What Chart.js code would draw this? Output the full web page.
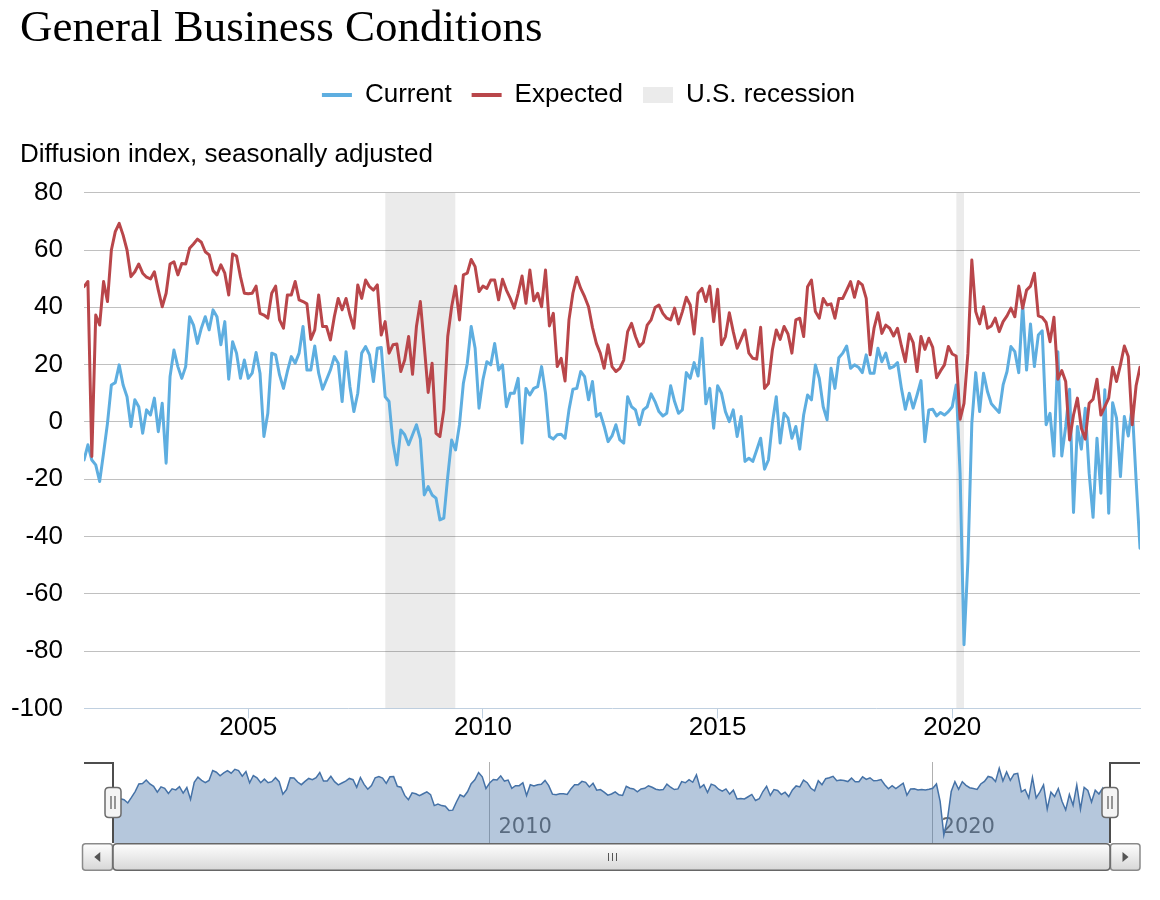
<!DOCTYPE html>
<html>
<head>
<meta charset="utf-8">
<script src="https://cdn.jsdelivr.net/npm/chart.js@4.4.1/dist/chart.umd.min.js"></script>
<style>
  html, body { margin: 0; padding: 0; background: #ffffff; }
  #wrap { position: relative; width: 1160px; height: 900px; overflow: hidden; }
  #main { position: absolute; left: 0; top: 0; }
  #nav { position: absolute; left: 0; top: 740px; }
</style>
</head>
<body>
<div id="wrap">
  <canvas id="main" width="1160" height="745"></canvas>
  <canvas id="nav" width="1160" height="160"></canvas>
</div>
<script>
// ---------------- data ----------------
const chartTitle = 'General Business Conditions';
const axisCaption = 'Diffusion index, seasonally adjusted';
const seriesNames = ['Current', 'Expected', 'U.S. recession'];
const firstMonth = [2001, 7];          // first observation: July 2001, monthly thereafter
const xTicks = [2005, 2010, 2015, 2020];
const navTicks = [2010, 2020];
const yRange = [-100, 80, 20];          // min, max, step
const recessions = [['2007-12', '2009-06'], ['2020-02', '2020-04']];

const current = [
  -13.3, -8.0, -13.3, -15.0, -20.8, -10.9,                                  // 2001 Jul-Dec
  -0.5, 12.9, 13.7, 19.9, 12.9, 8.8, -1.6, 7.7, 5.3, -4.0, 4.2, 2.4,        // 2002
  8.3, -3.4, 6.5, -14.4, 15.8, 25.1, 19.3, 15.2, 19.3, 36.7, 33.8, 27.4,    // 2003
  32.7, 36.7, 32.1, 39.1, 36.7, 26.9, 35.0, 14.9, 28.0, 24.0, 15.2, 21.6,   // 2004
  15.2, 17.0, 24.2, 17.0, -5.1, 3.0, 24.0, 23.4, 16.4, 11.7, 17.6, 22.8,    // 2005
  20.5, 24.0, 33.3, 18.1, 18.1, 26.5, 17.0, 11.4, 14.7, 18.1, 22.8, 20.5,   // 2006
  7.1, 24.5, 12.3, 3.6, 10.0, 24.0, 26.3, 23.4, 14.1, 25.7, 26.0, 8.8,      // 2007
  7.1, -7.4, -15.0, -2.8, -4.5, -8.0, -4.5, -1.0, -6.0, -25.5, -22.6, -25.5, // 2008
  -26.6, -34.2, -33.6, -19.1, -6.3, -9.8, -1.0, 13.5, 20.5, 33.3, 25.7, 4.8, // 2009
  14.7, 21.0, 19.9, 27.4, 18.1, 19.9, 5.3, 10.0, 10.0, 15.2, -7.4, 11.7,    // 2010
  9.4, 11.7, 12.3, 19.3, 10.0, -5.1, -6.0, -4.5, -4.3, -5.7, 4.2, 11.4,     // 2011
  11.7, 17.6, 15.8, 7.7, 14.1, 1.9, 3.0, -1.6, -6.9, -4.9, -1.0, -6.3,      // 2012
  -7.4, 8.8, 5.3, 4.2, -1.0, 4.2, 5.3, 9.8, 7.1, 3.6, 2.1, 3.0,             // 2013
  12.6, 7.1, 3.0, 4.2, 17.2, 15.2, 20.7, 16.0, 29.2, 6.3, 11.7, -2.2,       // 2014
  12.6, 10.0, 3.6, 0.1, 4.2, -5.1, 1.9, -13.8, -12.7, -13.8, -9.8, -5.7,    // 2015
  -16.5, -13.3, -0.5, 8.8, -7.4, 3.0, 1.3, -5.7, -1.6, -9.5, 2.4, 9.4,      // 2016
  7.7, 19.9, 15.2, 5.3, 0.7, 18.7, 11.7, 22.4, 24.0, 26.5, 18.7, 19.9,      // 2017
  19.1, 17.2, 23.4, 17.0, 17.0, 25.7, 21.0, 24.0, 18.7, 19.3, 20.7, 11.7,   // 2018
  4.4, 10.0, 4.8, 9.4, 14.4, -6.9, 4.2, 4.4, 2.1, 3.3, 2.4, 3.6,            // 2019
  5.3, 12.9, -17.9, -77.8, -48.5, -0.5, 17.2, 3.6, 17.0, 10.6, 6.3, 4.8,    // 2020
  3.3, 12.9, 17.6, 26.3, 24.5, 17.2, 41.0, 18.1, 34.2, 19.3, 30.3, 31.8,    // 2021
  -1.0, 3.0, -11.9, 24.5, -11.9, -1.6, 11.4, -31.6, -1.6, -9.5, 4.8, -17.9, // 2022
  -33.3, -5.7, -24.9, 11.2, -31.9, 6.7, 1.3, -19.1, 1.9, -4.9, 5.3, -20.2,  // 2023
  -44.1                                                                     // 2024 Jan
];

const expected = [
  47.2, 49.0, -12.1, 37.3, 33.8, 49.0,                                      // 2001 Jul-Dec
  42.0, 60.0, 66.4, 69.3, 65.2, 60.0, 50.7, 52.4, 55.1, 51.9, 50.5, 49.9,   // 2002
  52.4, 46.0, 40.2, 44.9, 55.1, 55.9, 51.3, 55.3, 55.1, 60.6, 62.1, 63.8,   // 2003
  62.7, 59.4, 58.3, 52.8, 51.3, 54.8, 51.9, 44.3, 58.6, 57.9, 50.7, 44.9,   // 2004
  44.7, 44.9, 47.4, 37.9, 37.3, 36.2, 44.9, 47.4, 35.6, 32.7, 44.3, 44.3,   // 2005
  49.0, 42.6, 42.0, 41.2, 28.8, 32.1, 44.3, 33.3, 33.3, 28.6, 36.7, 43.1,   // 2006
  39.1, 43.1, 37.3, 32.7, 47.8, 43.1, 49.5, 47.2, 46.0, 47.8, 30.3, 35.0,   // 2007
  24.0, 26.9, 27.2, 17.6, 21.6, 29.8, 16.6, 33.3, 42.0, 26.5, 10.3, 20.5,   // 2008
  -4.0, -5.1, 4.2, 29.8, 40.2, 47.4, 35.6, 51.3, 51.9, 56.7, 54.2, 45.5,    // 2009
  47.4, 46.6, 49.5, 49.5, 42.6, 49.8, 46.0, 43.1, 39.7, 44.9, 50.9, 41.4,   // 2010
  53.0, 42.3, 44.9, 40.2, 53.0, 33.5, 37.9, 19.3, 22.2, 14.3, 35.6, 44.9,   // 2011
  50.5, 46.6, 43.7, 40.2, 33.0, 27.4, 24.0, 18.7, 26.9, 19.3, 17.6, 18.7,   // 2012
  21.6, 31.5, 34.4, 29.8, 26.3, 27.7, 33.8, 35.6, 39.9, 40.8, 37.9, 36.2,   // 2013
  35.6, 39.7, 34.2, 38.5, 43.5, 40.8, 30.7, 44.9, 46.6, 42.0, 47.4, 35.0,   // 2014
  46.3, 26.9, 29.8, 38.1, 31.5, 25.7, 28.8, 32.1, 24.0, 22.2, 21.9, 33.0,   // 2015
  11.7, 13.4, 25.1, 32.1, 28.8, 33.3, 30.7, 24.0, 35.6, 36.2, 29.8, 47.2,   // 2016
  49.5, 38.5, 36.2, 43.1, 40.8, 41.2, 36.2, 43.1, 43.1, 46.0, 49.0, 43.5,   // 2017
  49.0, 47.8, 43.1, 23.4, 32.7, 38.1, 30.9, 33.8, 32.7, 30.0, 32.7, 26.5,   // 2018
  21.0, 30.7, 27.7, 17.6, 29.8, 25.3, 29.2, 26.0, 15.4, 17.8, 19.9, 26.3,   // 2019
  23.7, 23.0, 0.9, 6.5, 24.0, 56.5, 38.5, 34.2, 40.2, 32.7, 33.5, 36.2,     // 2020
  31.5, 35.0, 37.0, 39.7, 36.7, 47.4, 39.7, 46.0, 47.4, 51.9, 37.0, 36.5,   // 2021
  34.7, 28.0, 36.5, 14.9, 17.9, 14.1, -6.3, 2.4, 8.3, -2.2, -6.0, 6.5,      // 2022
  7.9, 14.9, 2.4, 5.3, 8.3, 19.1, 14.1, 19.9, 26.5, 22.8, -1.0, 12.6,       // 2023
  19.1                                                                      // 2024 Jan
];

// ---------------- helpers ----------------
const COLOR_CURRENT = '#5eaee0';
const COLOR_EXPECTED = '#b9464a';
const COLOR_RECESSION = 'rgba(0,0,0,0.08)';
const LEGEND_RECESSION = '#ebebeb';

function monthIndexToYear(i) { return firstMonth[0] + (firstMonth[1] - 1 + i) / 12; }
function monthStrToYear(s) { const [y, m] = s.split('-').map(Number); return y + (m - 1) / 12; }
const toPoints = arr => arr.map((v, i) => ({ x: monthIndexToYear(i), y: v }));
const xMin = monthIndexToYear(0);
const xMax = monthIndexToYear(current.length - 1);

Chart.defaults.font.family = "'Liberation Sans', Arial, sans-serif";
Chart.defaults.color = '#000';

const recessionSets = recessions.map(([a, b]) => ({
  label: seriesNames[2],
  data: [{ x: monthStrToYear(a), y: yRange[1] }, { x: monthStrToYear(b), y: yRange[1] }],
  borderWidth: 0, pointRadius: 0, backgroundColor: COLOR_RECESSION, fill: 'start', order: 10
}));

const layoutTweaks = {
  id: 'layoutTweaks',
  afterLayout(chart) {
    if (chart.legend) chart.legend.left += 17;       // nudge legend row to its reference position
    if (chart.scales.y) chart.scales.y.left = 0;     // widen label clip area so "-100" is not cut
  }
};

const mainChart = new Chart(document.getElementById('main'), {
  type: 'line',
  data: {
    datasets: [
      { label: seriesNames[0], data: toPoints(current), borderColor: COLOR_CURRENT, borderWidth: 3,
        pointRadius: 0, fill: false, tension: 0, order: 2, borderJoinStyle: 'round', borderCapStyle: 'round' },
      { label: seriesNames[1], data: toPoints(expected), borderColor: COLOR_EXPECTED, borderWidth: 3,
        pointRadius: 0, fill: false, tension: 0, order: 1, borderJoinStyle: 'round', borderCapStyle: 'round' },
      ...recessionSets
    ]
  },
  options: {
    responsive: false, animation: false, events: [],
    layout: { padding: { left: 20, right: 20, top: 0, bottom: 0 } },
    plugins: {
      tooltip: { enabled: false },
      title: {
        display: true, text: chartTitle, align: 'start', color: '#000',
        font: { family: "'Liberation Serif', 'Times New Roman', serif", size: 45, weight: 'normal', lineHeight: 1.0 },
        padding: { top: 6.4, bottom: 10.6 }
      },
      subtitle: {
        display: true, text: axisCaption, align: 'start', position: 'top', weight: 500, color: '#000',
        font: { size: 26, weight: 'normal', lineHeight: 1.2 },
        padding: { top: 21, bottom: 22.5 }
      },
      legend: {
        display: true, position: 'top', align: 'center',
        labels: {
          usePointStyle: true, pointStyleWidth: 30, boxHeight: 16, padding: 20, color: '#000',
          font: { size: 26 },
          generateLabels: () => [
            { text: seriesNames[0], pointStyle: 'line', strokeStyle: COLOR_CURRENT, fillStyle: COLOR_CURRENT, lineWidth: 4, lineCap: 'butt', hidden: false, datasetIndex: 0, fontColor: '#000' },
            { text: seriesNames[1], pointStyle: 'line', strokeStyle: COLOR_EXPECTED, fillStyle: COLOR_EXPECTED, lineWidth: 4, lineCap: 'butt', hidden: false, datasetIndex: 1, fontColor: '#000' },
            { text: seriesNames[2], pointStyle: 'rect', strokeStyle: LEGEND_RECESSION, fillStyle: LEGEND_RECESSION, lineWidth: 0, hidden: false, datasetIndex: 2, fontColor: '#000' }
          ]
        }
      }
    },
    scales: {
      x: {
        type: 'linear', min: xMin, max: xMax,
        afterBuildTicks: s => { s.ticks = xTicks.map(v => ({ value: v })); },
        afterFit: s => { s.height = 36.6; },
        ticks: { autoSkip: false, maxRotation: 0, padding: -6.2, color: '#000', font: { size: 26 }, callback: v => String(v) },
        grid: { drawOnChartArea: false, drawTicks: true, tickLength: 10, color: '#c0d0e0', lineWidth: 1 },
        border: { display: true, color: '#c0d0e0', width: 1 }
      },
      y: {
        min: yRange[0], max: yRange[1],
        afterFit: s => { s.width = 64; },
        ticks: { stepSize: yRange[2], padding: 21, color: '#000', font: { size: 26 } },
        grid: { drawTicks: false, lineWidth: 1, color: c => (c.tick && c.tick.value === yRange[0]) ? 'rgba(0,0,0,0)' : '#c0c0c0' },
        border: { display: false }
      }
    }
  },
  plugins: [layoutTweaks]
});

// ---------------- navigator ----------------
function rrect(c, x, y, w, h, r) {
  c.beginPath();
  c.moveTo(x + r, y);
  c.lineTo(x + w - r, y); c.quadraticCurveTo(x + w, y, x + w, y + r);
  c.lineTo(x + w, y + h - r); c.quadraticCurveTo(x + w, y + h, x + w - r, y + h);
  c.lineTo(x + r, y + h); c.quadraticCurveTo(x, y + h, x, y + h - r);
  c.lineTo(x, y + r); c.quadraticCurveTo(x, y, x + r, y);
  c.closePath();
}

const navDecor = {
  id: 'navDecor',
  afterLayout(chart) {
    const s = chart.scales.x;
    s.top = chart.chartArea.bottom - 40;   // let the in-plot tick labels escape the label clip box
    s.bottom = chart.height;
  },
  afterDraw(chart) {
    const c = chart.ctx;
    const a = chart.chartArea;
    const L = a.left, R = a.right, T = a.top, B = a.bottom;
    const outerL = mainChart.chartArea.left, outerR = mainChart.chartArea.right;
    const sbH = 28;
    c.save();
    // navigator outline
    c.strokeStyle = '#4d4d4d'; c.lineWidth = 2;
    c.beginPath();
    c.moveTo(outerL, T + 1); c.lineTo(L, T + 1); c.lineTo(L, B);
    c.moveTo(R, B); c.lineTo(R, T + 1); c.lineTo(outerR, T + 1);
    c.stroke();
    // scrollbar
    const grad = c.createLinearGradient(0, B, 0, B + sbH);
    grad.addColorStop(0, '#ffffff'); grad.addColorStop(1, '#d6d6d6');
    c.lineWidth = 1.5;
    rrect(c, outerL - 1.5, B + 0.75, L - outerL + 1, sbH - 1.5, 3); c.fillStyle = grad; c.fill(); c.strokeStyle = '#8a8a8a'; c.stroke();
    rrect(c, R + 0.5, B + 0.75, outerR - R - 0.5, sbH - 1.5, 3); c.fillStyle = grad; c.fill(); c.stroke();
    rrect(c, L, B + 0.75, R - L, sbH - 1.5, 4); c.fillStyle = grad; c.fill(); c.strokeStyle = '#666'; c.stroke();
    const midY = B + sbH / 2;
    const lbx = (outerL - 1.5 + L) / 2, rbx = (R + outerR) / 2;
    c.fillStyle = '#555';
    c.beginPath(); c.moveTo(lbx - 3.5, midY); c.lineTo(lbx + 2.5, midY - 5); c.lineTo(lbx + 2.5, midY + 5); c.closePath(); c.fill();
    c.beginPath(); c.moveTo(rbx + 3.5, midY); c.lineTo(rbx - 2.5, midY - 5); c.lineTo(rbx - 2.5, midY + 5); c.closePath(); c.fill();
    const gx = (L + R) / 2;
    c.strokeStyle = '#555'; c.lineWidth = 1;
    c.beginPath();
    [-4, 0, 4].forEach(d => { c.moveTo(Math.round(gx + d) + 0.5, midY - 4); c.lineTo(Math.round(gx + d) + 0.5, midY + 4); });
    c.stroke();
    // range handles
    const hy = (T + B) / 2;
    [L, R].forEach(hx => {
      rrect(c, hx - 8, hy - 15, 16, 30, 4);
      c.fillStyle = '#f4f4f4'; c.fill();
      c.strokeStyle = '#6b6b6b'; c.lineWidth = 1.5; c.stroke();
      c.strokeStyle = '#555'; c.lineWidth = 1.2;
      c.beginPath();
      c.moveTo(hx - 2, hy - 6.5); c.lineTo(hx - 2, hy + 6.5);
      c.moveTo(hx + 2, hy - 6.5); c.lineTo(hx + 2, hy + 6.5);
      c.stroke();
    });
    c.restore();
  }
};

new Chart(document.getElementById('nav'), {
  type: 'line',
  data: {
    datasets: [{
      label: seriesNames[0], data: toPoints(current), borderColor: '#4572a7', borderWidth: 1.5,
      backgroundColor: 'rgba(69,114,167,0.4)', fill: 'start', pointRadius: 0, tension: 0
    }]
  },
  options: {
    responsive: false, animation: false, events: [],
    layout: { padding: { left: 113, right: 50, top: 22, bottom: 57 } },
    plugins: { legend: { display: false }, tooltip: { enabled: false } },
    scales: {
      x: {
        type: 'linear', min: xMin, max: xMax,
        afterBuildTicks: s => { s.ticks = navTicks.map(v => ({ value: v })); },
        afterFit: s => { s.height = 0; },
        ticks: { autoSkip: false, maxRotation: 0, padding: 12, labelOffset: 35.5, color: '#666',
                 font: { family: "'DejaVu Sans', sans-serif", size: 21 }, callback: v => String(v) },
        grid: { drawTicks: false, color: '#b0b0b0', lineWidth: 1 },
        border: { display: false }
      },
      y: { display: false, min: -92, max: 52 }
    }
  },
  plugins: [navDecor]
});
</script>
</body>
</html>
